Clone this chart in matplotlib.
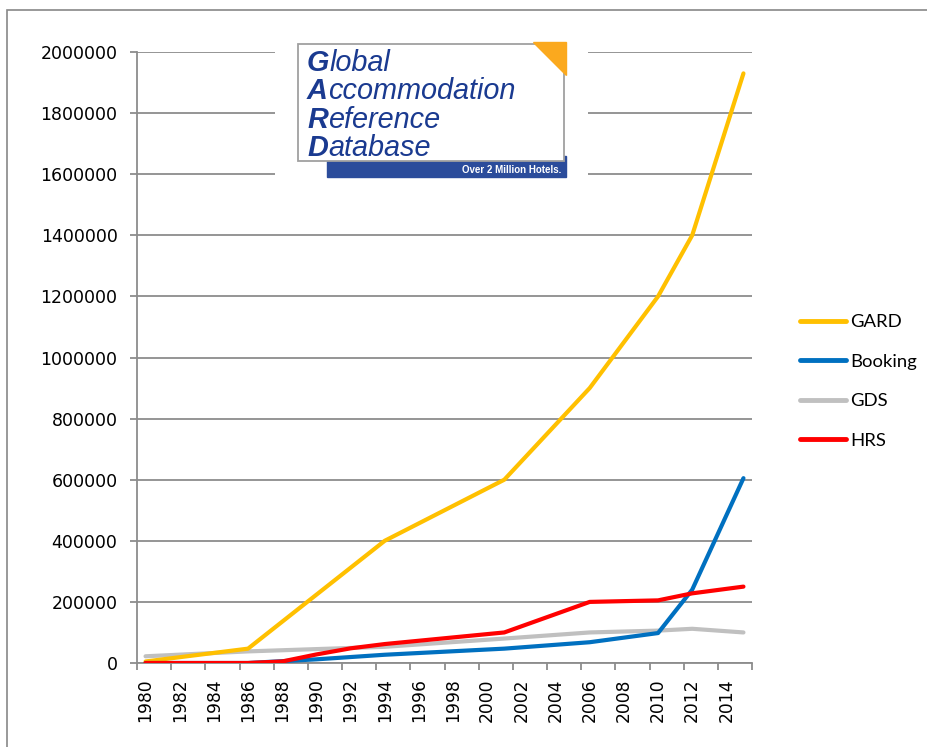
import matplotlib.pyplot as plt
from matplotlib.patches import Rectangle, Polygon

# series data
gard_years = [1980, 1986, 1994, 2001, 2006, 2010, 2012, 2015]
gard = [5000, 47000, 400000, 600000, 900000, 1200000, 1400000, 1930000]

booking_years = [1980, 1986, 1990, 1994, 2001, 2006, 2010, 2012, 2015]
booking = [0, 0, 12000, 27000, 47000, 68000, 98000, 240000, 605000]

gds_years = [1980, 1986, 1994, 2001, 2006, 2010, 2012, 2015]
gds = [22000, 38000, 53000, 80000, 100000, 106000, 112000, 100000]

hrs_years = [1980, 1986, 1988, 1990, 1992, 1994, 2001, 2006, 2010, 2012, 2015]
hrs = [0, 0, 5000, 28000, 48000, 62000, 100000, 200000, 205000, 228000, 250000]

year_labels = list(range(1980, 2015, 2))
y_ticks = list(range(0, 2000001, 200000))

GRID = '#8c8c8c'


def main():
    fig = plt.figure(figsize=(9.28, 7.47), dpi=100)
    W, H = 928, 747

    # outer chart frame
    fig.patches.append(Rectangle((7 / W, 1 - 760 / H), 940 / W, 750 / H,
                                 transform=fig.transFigure, fill=False,
                                 edgecolor='#888888', linewidth=1.2))

    ax = fig.add_axes([137 / W, 1 - 663 / H, 615 / W, 611 / H])

    ax.plot(gard_years, gard, color='#FFC000', lw=3, label='GARD', solid_capstyle='round', zorder=3)
    ax.plot(booking_years, booking, color='#0070C0', lw=3, label='Booking', solid_capstyle='round', zorder=3)
    ax.plot(gds_years, gds, color='#C0C0C0', lw=3, label='GDS', solid_capstyle='round', zorder=2)
    ax.plot(hrs_years, hrs, color='#FF0000', lw=3, label='HRS', solid_capstyle='round', zorder=4)

    ax.set_xlim(1979.5, 2015.5)
    ax.set_ylim(0, 2000000)

    ax.set_yticks(y_ticks)
    ax.set_yticklabels([str(v) for v in y_ticks])
    ax.yaxis.grid(True, color=GRID, lw=1.3)
    ax.set_axisbelow(True)

    ax.set_xticks(year_labels)
    ax.set_xticklabels([str(y) for y in year_labels], rotation=90)
    ax.set_xticks([1979.5 + 2 * k for k in range(19)], minor=True)
    ax.tick_params(axis='x', which='major', length=0, pad=11, labelsize=12.3)
    ax.tick_params(axis='x', which='minor', length=5, color=GRID, width=1.3)
    ax.tick_params(axis='y', length=5, color=GRID, width=1.3, pad=9, labelsize=12.5)

    for side in ['top', 'right']:
        ax.spines[side].set_visible(False)
    for side in ['left', 'bottom']:
        ax.spines[side].set_color(GRID)
        ax.spines[side].set_linewidth(1.3)

    leg = fig.legend(loc='center left', bbox_to_anchor=(800 / W, 1 - 381.5 / H),
                     frameon=False, handlelength=2.5, handletextpad=0.2,
                     labelspacing=1.27, borderpad=0, borderaxespad=0,
                     prop={'family': 'Lato', 'size': 13.3})
    for line in leg.get_lines():
        line.set_linewidth(3.5)

    # GARD logo, drawn in pixel coordinates of the picture
    lg = fig.add_axes([275 / W, 1 - 185 / H, 313 / W, 150 / H])
    lg.set_xlim(275, 588)
    lg.set_ylim(185, 35)
    lg.axis('off')
    lg.add_patch(Rectangle((275, 35), 313, 150, color='white', zorder=0))
    lg.add_patch(Rectangle((327, 156), 239, 21, color='#2B4C9B', zorder=1))
    lg.add_patch(Rectangle((298, 44), 266, 117, facecolor='white',
                           edgecolor='#a0a0a0', lw=1.3, zorder=2))
    lg.add_patch(Polygon([(533, 42), (566, 42), (566, 75)], closed=True,
                         color='#FBA91E', zorder=3))
    logo_blue = '#1A3A90'
    for i, word in enumerate(['Global', 'Accommodation', 'Reference', 'Database']):
        base = 71 + 28.3 * i
        first = lg.text(307, base, word[0], fontsize=20.8, fontweight='bold', style='italic',
                        family='Liberation Sans', color=logo_blue, va='baseline', zorder=4)
        lg.annotate(word[1:], xy=(1, 0), xycoords=first, va='bottom', ha='left',
                    fontsize=20.8, style='italic', family='Liberation Sans',
                    color=logo_blue, zorder=4)
    lg.text(561, 170, 'Over 2 Million Hotels.', fontsize=7, fontweight='bold',
            family='Liberation Sans', color='white', ha='right', va='center', zorder=4)

    fig.savefig('out.png', dpi=100)


if __name__ == '__main__':
    main()
